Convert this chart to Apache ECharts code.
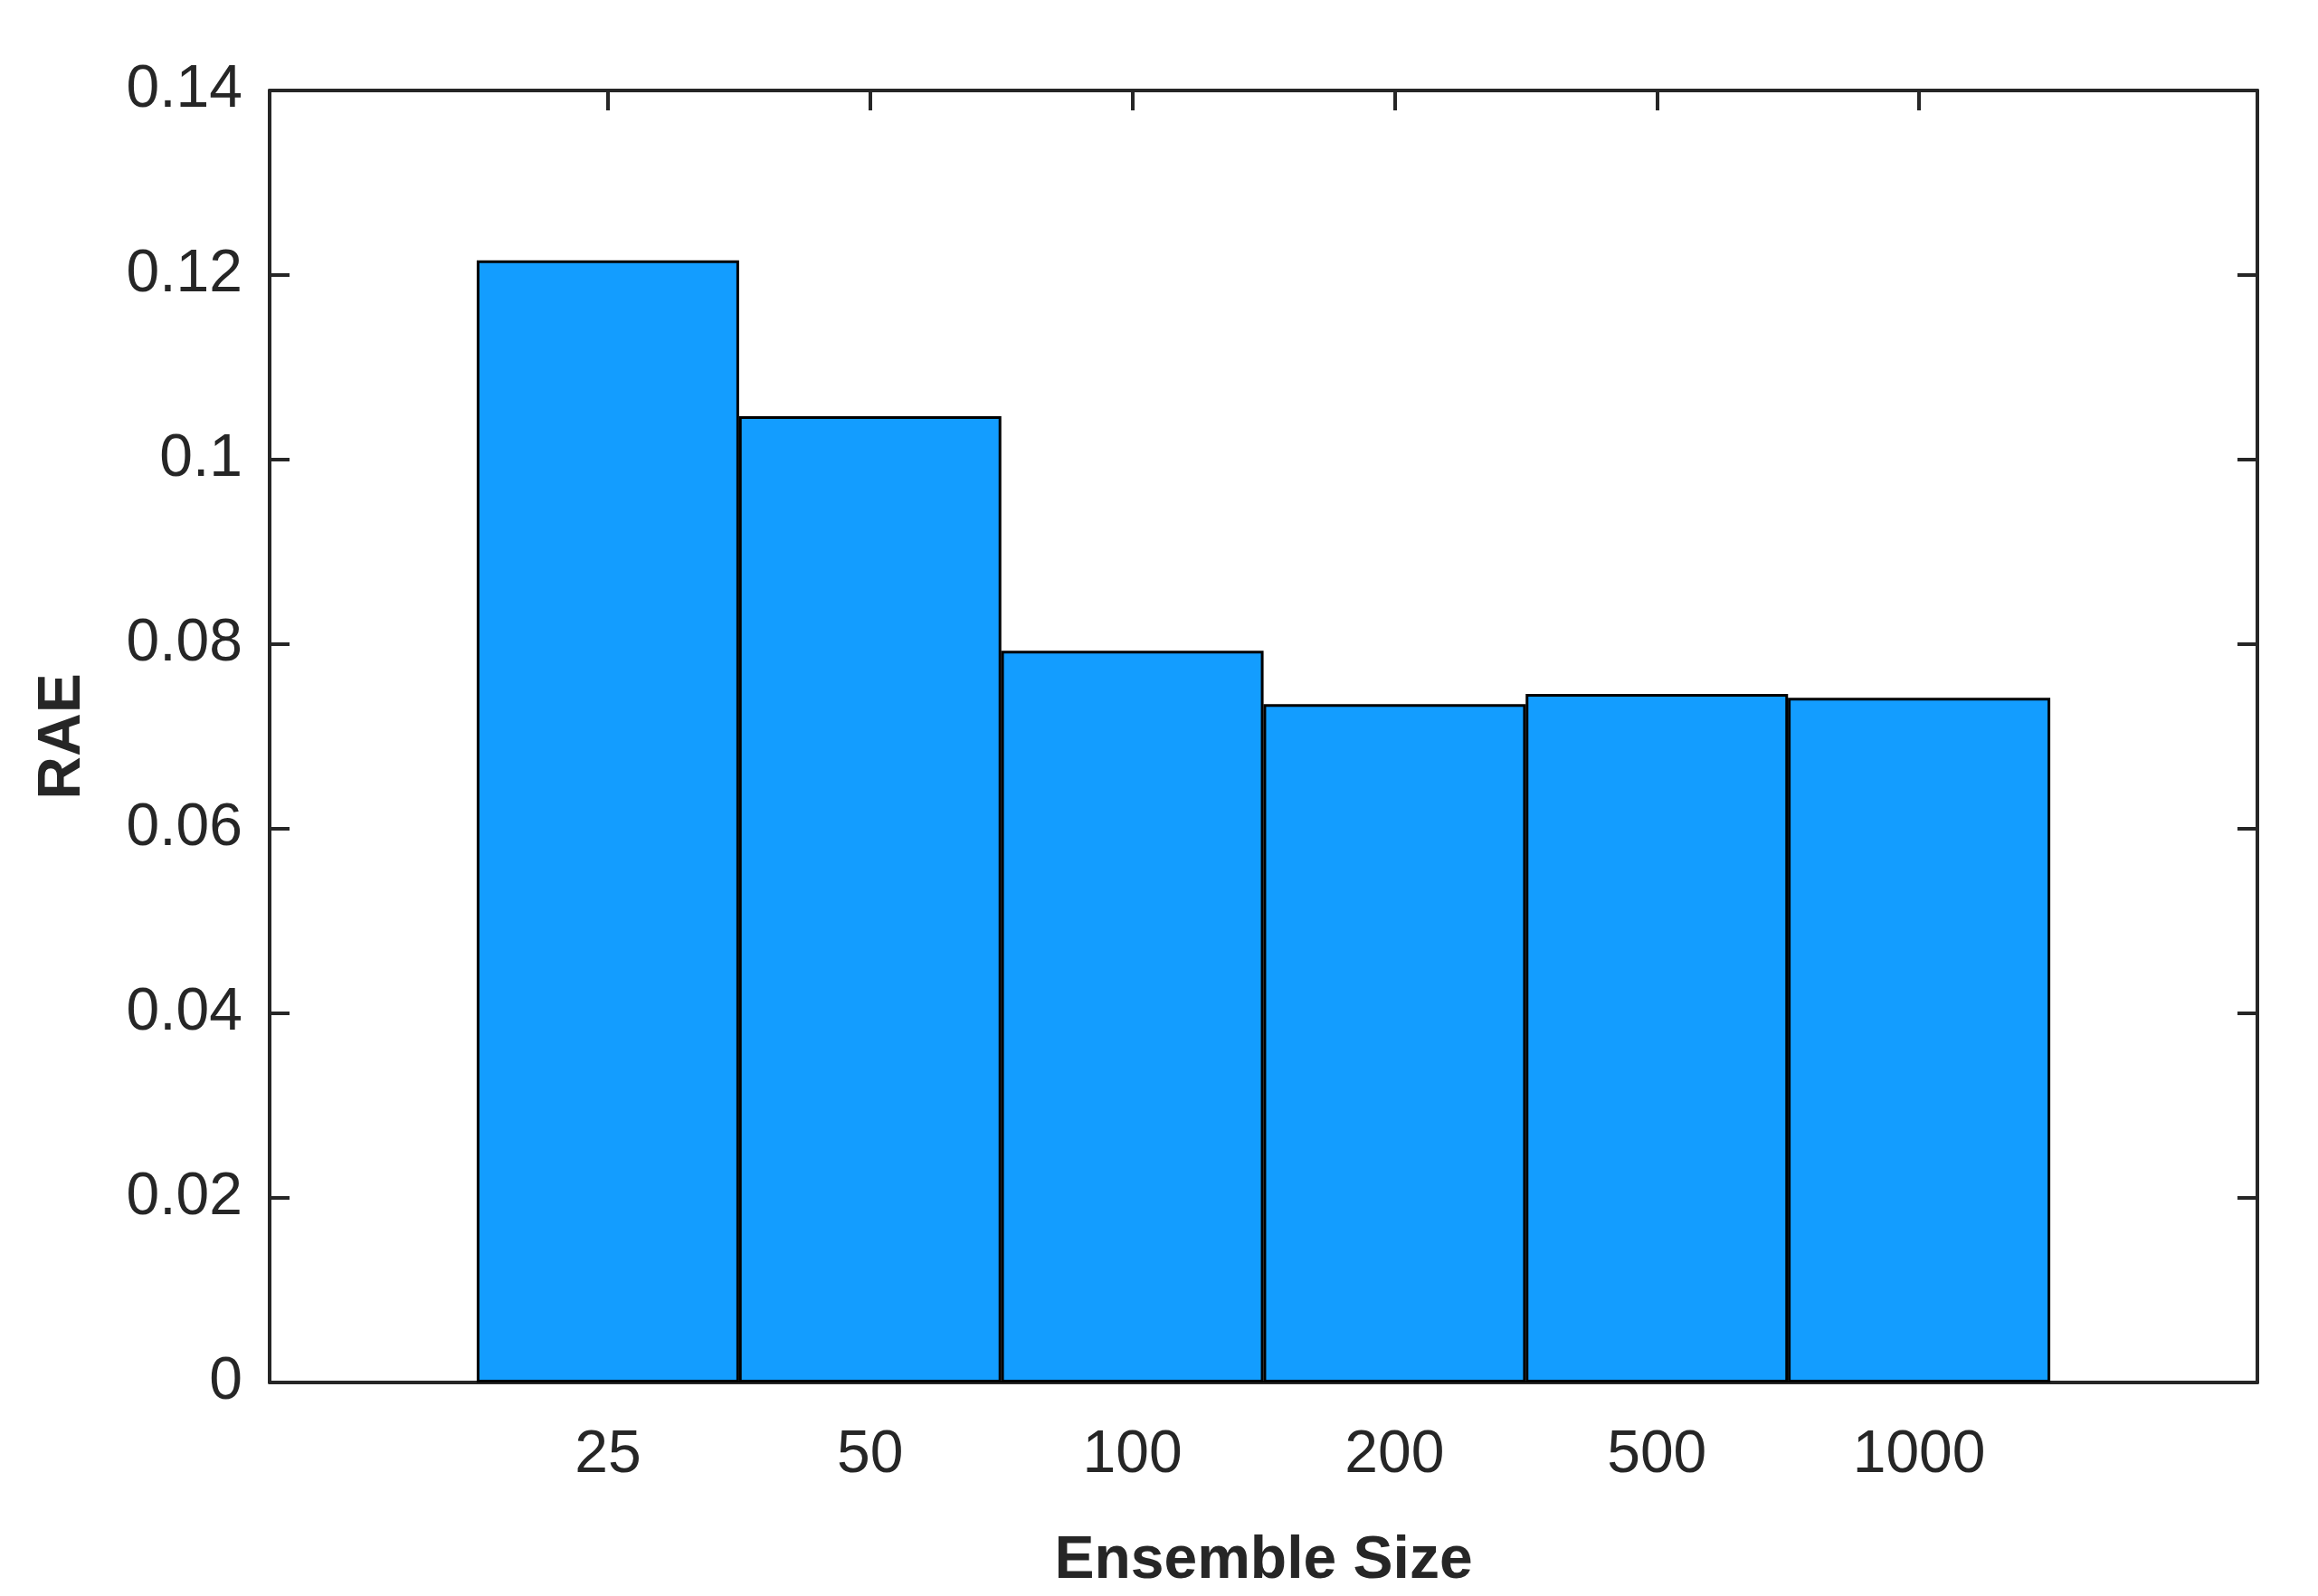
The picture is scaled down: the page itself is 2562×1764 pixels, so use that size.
<!DOCTYPE html>
<html>
<head>
<meta charset="utf-8">
<script src="https://cdn.jsdelivr.net/npm/echarts@6/dist/echarts.min.js"></script>
<style>html,body{margin:0;padding:0;background:#fff}#chart{width:2562px;height:1764px}</style>
</head>
<body>
<div id="chart"></div>
<script>
var categories = ['25', '50', '100', '200', '500', '1000'];
var raeValues = [0.1216, 0.1047, 0.0793, 0.0735, 0.0746, 0.0742];

var idx = categories.map(function (c, i) { return i; });
var txt = '#262626';
var font = '"Liberation Sans", Arial, sans-serif';
var xMin = -1.29, xMax = 6.29;

var myChart = echarts.init(document.getElementById('chart'), null, { renderer: 'canvas' });

function frameAxis(extra) {
    return Object.assign({
        axisLine: { show: true, onZero: false, lineStyle: { color: txt, width: 4 } },
        axisTick: { show: true, inside: true, length: 22, lineStyle: { color: txt, width: 4 } },
        axisLabel: { show: false },
        splitLine: { show: false }
    }, extra);
}

var option = {
    animation: false,
    grid: { left: 298, right: 67, top: 100, bottom: 232 },
    xAxis: [
        frameAxis({
            type: 'value', min: xMin, max: xMax, position: 'bottom',
            name: 'Ensemble Size', nameLocation: 'middle', nameGap: 165,
            nameTextStyle: { color: txt, fontSize: 66, fontWeight: 'bold', fontFamily: font },
            axisTick: { show: true, inside: true, length: 22, customValues: idx, lineStyle: { color: txt, width: 4 } },
            axisLabel: {
                show: true, customValues: idx, margin: 48, color: txt, fontSize: 66, fontFamily: font,
                formatter: function (v) { return categories[Math.round(v)]; }
            }
        }),
        frameAxis({
            type: 'value', min: xMin, max: xMax, position: 'top',
            axisTick: { show: true, inside: true, length: 22, customValues: idx, lineStyle: { color: txt, width: 4 } }
        })
    ],
    yAxis: [
        frameAxis({
            type: 'value', min: 0, max: 0.14, interval: 0.02, position: 'left',
            name: 'RAE', nameLocation: 'middle', nameGap: 195, nameRotate: 90,
            nameTextStyle: { color: txt, fontSize: 66, fontWeight: 'bold', fontFamily: font },
            axisLabel: {
                show: true, margin: 30, color: txt, fontSize: 66, fontFamily: font,
                formatter: function (v) { return String(+v.toFixed(2)); }
            }
        }),
        frameAxis({
            type: 'value', min: 0, max: 0.14, interval: 0.02, position: 'right'
        })
    ],
    series: [{
        type: 'bar',
        xAxisIndex: 0, yAxisIndex: 0,
        barWidth: 290,
        data: raeValues.map(function (v, i) { return [i, v]; }),
        itemStyle: { color: '#139dff', borderColor: '#000', borderWidth: 3 }
    }]
};
myChart.setOption(option);
</script>
</body>
</html>
